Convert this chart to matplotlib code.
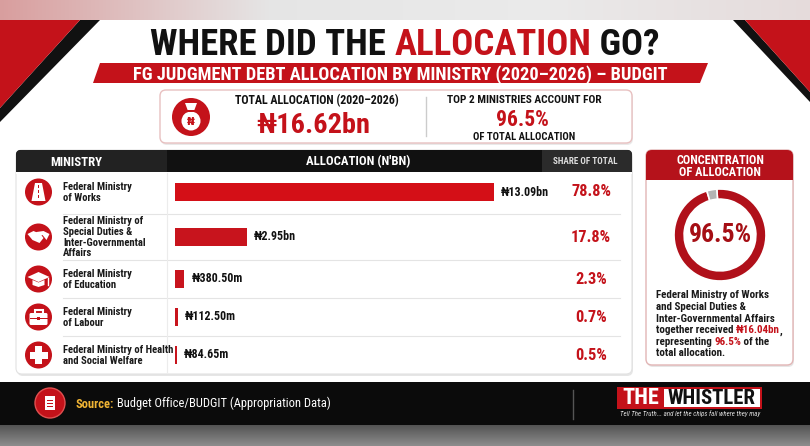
import matplotlib
matplotlib.use("Agg")
import matplotlib.pyplot as plt
import numpy as np
from matplotlib import font_manager
from matplotlib.patches import Circle, FancyBboxPatch, Polygon, Rectangle

# ---- data -------------------------------------------------------------
ministries = [
    "Federal Ministry\nof Works",
    "Federal Ministry of\nSpecial Duties &\nInter-Governmental\nAffairs",
    "Federal Ministry\nof Education",
    "Federal Ministry\nof Labour",
    "Federal Ministry of Health\nand Social Welfare",
]
allocation_bn = [13.09, 2.95, 0.3805, 0.1125, 0.08465]
share_pct = [78.8, 17.8, 2.3, 0.7, 0.5]
total_bn = 16.62
top2_bn = 16.04
top2_pct = 96.5
period = "2020–2026"

RED = "#c4121a"
DARK_RED = "#a50e14"
GOLD = "#f0b434"

names = {f.name for f in font_manager.fontManager.ttflist}
NARROW = next((n for n in ["Liberation Sans Narrow", "Roboto Condensed"] if n in names), "DejaVu Sans")
COND = [NARROW, "DejaVu Sans"]

fig = plt.figure(figsize=(8.1, 4.46), dpi=100, facecolor="white")
bg = fig.add_axes([0, 0, 1, 1])
bg.set_xlim(0, 810)
bg.set_ylim(446, 0)
bg.axis("off")
renderer = fig.canvas.get_renderer()


def text_width(s, size, weight="bold", style="normal", family=COND):
    t = bg.text(0, 0, s, fontsize=size, family=family, fontweight=weight, fontstyle=style)
    w = t.get_window_extent(renderer).width
    t.remove()
    return w


def rich(x, y, parts, size, ha="left", width=None, style="normal", family=COND, z=6):
    # parts: (text, colour, weight)
    def total(sz):
        bar = text_width("|", sz, "bold", style, family)
        return sum(text_width(s + "|", sz, w, style, family) - bar for s, _, w in parts)

    if width:
        size = size * width / total(size)
    x0 = x - total(size) / 2 if ha == "center" else x
    bar = text_width("|", size, "bold", style, family)
    for s, c, w in parts:
        bg.text(x0, y, s, fontsize=size, family=family, fontweight=w, fontstyle=style,
                color=c, ha="left", va="baseline", zorder=z)
        x0 += text_width(s + "|", size, w, style, family) - bar
    return size


def rbox(x, y, w, h, r, fc, ec="none", lw=0, z=2):
    bg.add_patch(FancyBboxPatch((x + r, y + r), w - 2 * r, h - 2 * r,
                                boxstyle=f"round,pad={r}", fc=fc, ec=ec, lw=lw, zorder=z))


def rect(x, y, w, h, fc, z=2, **kw):
    bg.add_patch(Rectangle((x, y), w, h, fc=fc, ec="none", zorder=z, **kw))


# ---- background -------------------------------------------------------
top = np.array([[0.85, 0.62, 0.62], [0.90, 0.90, 0.90], [0.92, 0.92, 0.92], [0.90, 0.86, 0.86]])
grad = np.array([np.interp(np.linspace(0, 3, 400), np.arange(4), top[:, k]) for k in range(3)]).T
bg.imshow(grad[None, :, :], extent=(0, 810, 20, 0), aspect="auto", zorder=0)
bot = np.linspace(0.33, 0.55, 30)
bg.imshow(np.repeat(bot[:, None, None], 3, axis=2) * np.ones((1, 10, 3)),
          extent=(0, 810, 446, 425), aspect="auto", zorder=0)

bg.add_patch(Polygon([(80, 20), (100, 20), (0, 122), (0, 108)], fc="#111111", zorder=1))
bg.add_patch(Polygon([(0, 20), (80, 20), (0, 108)], fc=RED, zorder=1))
bg.add_patch(Polygon([(733, 20), (745, 20), (810, 92), (810, 102)], fc="#111111", zorder=1))
bg.add_patch(Polygon([(745, 20), (810, 20), (810, 92)], fc=RED, zorder=1))

# ---- title ------------------------------------------------------------
rich(405, 55, [("WHERE DID THE ", "#111111", "bold"), ("ALLOCATION", RED, "bold"),
               (" GO?", "#111111", "bold")], 28, ha="center", width=510)
bg.add_patch(Polygon([(100, 63), (708, 63), (700, 83), (93, 83)], fc=RED, zorder=2))
rich(400, 79.5, [(f"FG JUDGMENT DEBT ALLOCATION BY MINISTRY ({period}) – BUDGIT", "white", "bold")],
     12, ha="center", width=534)

# ---- summary box ------------------------------------------------------
rbox(161, 92, 472, 53, 6, "#e9e9e9", z=1)
rbox(160, 90, 472, 53, 6, "white", ec="#e8c0c0", lw=1)
bg.add_patch(Circle((191, 117), 19, fc=RED, zorder=3))
bg.add_patch(Circle((191, 121), 9.5, fc="white", zorder=4))
bg.add_patch(Polygon([(185, 103), (197, 103), (194, 111), (188, 111)], fc="white", zorder=4))
rect(187, 110, 8, 1.5, RED, z=5)
bg.text(191, 122, "₦", fontsize=8, fontweight="bold", color=RED, ha="center", va="center",
        family=["DejaVu Sans"], zorder=6)
rich(235, 104, [(f"TOTAL ALLOCATION ({period})", "#111111", "bold")], 8, width=165)
rich(256, 133, [(f"₦{total_bn:.2f}bn", RED, "bold")], 20, width=114)
bg.plot([426, 426], [97, 136], color="#cccccc", lw=1, zorder=3)
rich(524, 103, [("TOP 2 MINISTRIES ACCOUNT FOR", "#111111", "bold")], 8, ha="center", width=155)
rich(522, 126.5, [(f"{top2_pct:.1f}%", RED, "bold")], 15.5, ha="center")
rich(524, 140.5, [("OF TOTAL ALLOCATION", "#111111", "bold")], 7, ha="center", width=103)

# ---- table ------------------------------------------------------------
row_y = [192, 237, 279, 317, 355]
seps = [214, 260, 298, 336]
rbox(17, 152, 616, 224, 6, "#e6e6e6", z=1)
rbox(16, 150, 616, 224, 6, "white", ec="#e2e2e2", lw=0.8)
rbox(16, 150, 616, 24, 5, "#111111", z=3)
rect(16, 162, 616, 10, "#111111", z=3)
rbox(16, 150, 151, 22, 5, "#222222", z=3)
rect(100, 150, 67, 22, "#222222", z=3)
rect(16, 162, 151, 10, "#222222", z=3)
rbox(542, 150, 90, 22, 5, "#2b2b2b", z=3)
rect(542, 150, 40, 22, "#2b2b2b", z=3)
rect(542, 162, 90, 10, "#2b2b2b", z=3)
rect(16, 172, 616, 1.5, "white", z=3)
rich(76, 165.5, [("MINISTRY", "white", "bold")], 8, ha="center", width=52)
rich(358, 165.5, [("ALLOCATION (N'BN)", "white", "bold")], 8, ha="center", width=104)
rich(585, 164.5, [("SHARE OF TOTAL", "#dddddd", "bold")], 5.5, ha="center", width=64)

for s in seps:
    bg.plot([63, 620], [s, s], color="#e4e4e4", lw=0.8, zorder=3)
bg.plot([167, 167], [173, 372], color="#ececec", lw=0.8, zorder=3)


def icon(k, cx, cy):
    bg.add_patch(Circle((cx, cy), 13.5, fc=RED, zorder=4))
    W = dict(fc="white", ec="none", zorder=5)
    if k == 0:  # road
        bg.add_patch(Polygon([(cx - 3.5, cy - 9), (cx + 3.5, cy - 9), (cx + 7, cy + 9), (cx - 7, cy + 9)], **W))
        for dy in (-7, -2, 3):
            rect(cx - 0.7, cy + dy, 1.4, 3, RED, z=6)
    elif k == 1:  # handshake
        bg.add_patch(Polygon([(cx - 11, cy - 3), (cx - 5, cy - 6), (cx + 2, cy - 3), (cx + 5, cy + 1),
                              (cx + 1, cy + 6), (cx - 6, cy + 3)], **W))
        bg.add_patch(Polygon([(cx + 11, cy - 3), (cx + 5, cy - 6), (cx - 2, cy - 5), (cx - 5, cy - 1),
                              (cx - 1, cy + 0), (cx + 4, cy - 2), (cx + 8, cy + 3)], **W))
    elif k == 2:  # graduation cap
        bg.add_patch(Polygon([(cx - 11, cy - 2), (cx, cy - 7), (cx + 11, cy - 2), (cx, cy + 3)], **W))
        bg.add_patch(Polygon([(cx - 6, cy + 1), (cx, cy + 3.5), (cx + 6, cy + 1), (cx + 6, cy + 6),
                              (cx, cy + 8), (cx - 6, cy + 6)], **W))
        bg.plot([cx + 9, cx + 9], [cy - 1, cy + 6], color="white", lw=1, zorder=5)
    elif k == 3:  # briefcase
        rbox(cx - 9, cy - 4, 18, 12, 1.5, "white", z=5)
        bg.add_patch(Rectangle((cx - 4, cy - 7.5), 8, 4, fc="none", ec="white", lw=1.5, zorder=5))
        rect(cx - 9, cy + 0.5, 18, 1, RED, z=6)
        rect(cx - 1.5, cy - 0.5, 3, 3, RED, z=6)
    else:  # cross
        rect(cx - 3.5, cy - 9, 7, 18, "white", z=5)
        rect(cx - 9, cy - 3.5, 18, 7, "white", z=5)


label_size = None
for i, (name, y) in enumerate(zip(ministries, row_y)):
    icon(i, 38.5, y)
    lines = name.split("\n")
    if label_size is None:
        label_size = 7 * 69 / text_width("Federal Ministry", 7)
    y0 = y - (len(lines) - 1) * 10.7 / 2 + 3.3
    for j, line in enumerate(lines):
        bg.text(63, y0 + j * 10.7, line, fontsize=label_size, family=COND, fontweight="bold",
                color="#1a1a1a", va="baseline", zorder=6)

# bars use their own value axis
bar_ax = fig.add_axes([175 / 810, 0, 365 / 810, 1])
bar_ax.set_xlim(0, 15)
bar_ax.set_ylim(446, 0)
bar_ax.axis("off")
bar_colors = ["#d40f17"] + ["#c8141d"] * 4
bar_ax.barh(row_y, allocation_bn, height=18.5, color=bar_colors, zorder=3)


def money(v):
    return f"₦{v:.2f}bn" if v >= 1 else f"₦{v * 1000:.2f}m"


value_size = 8 * 48 / text_width("₦13.09bn", 8)
pct_size = 9 * 40 / text_width("78.8%", 9)
for v, p, y in zip(allocation_bn, share_pct, row_y):
    bar_ax.annotate(money(v), xy=(v, y), xytext=(7, 0), textcoords="offset pixels",
                    ha="left", va="center", fontsize=value_size, fontweight="bold",
                    family=COND, color="#111111")
    bg.text(591, y, f"{p:.1f}%", fontsize=pct_size, fontweight="bold", family=COND,
            color=RED, ha="center", va="center", zorder=6)

# ---- concentration panel ---------------------------------------------
rbox(647, 152, 147, 215, 6, "#e6e6e6", z=1)
rbox(646, 150, 147, 215, 6, "white", ec="#e2b5b5", lw=1)
rbox(646, 150, 147, 30, 6, "#b5121b", z=3)
rect(646, 170, 147, 10, "#b5121b", z=3)
hs = rich(720, 164.5, [("CONCENTRATION", "white", "bold")], 8, ha="center", width=87)
rich(720, 176.5, [("OF ALLOCATION", "white", "bold")], hs, ha="center")

pie_ax = fig.add_axes([(720 - 46) / 810, (446 - 235 - 46) / 446, 92 / 810, 92 / 446])
pie_ax.pie([top2_pct, 100 - top2_pct], colors=["#b0101a", "#b3b3b3"], radius=1,
           startangle=90 + 4 + (100 - top2_pct) * 3.6, counterclock=True,
           wedgeprops=dict(width=0.22, edgecolor="white", linewidth=1.2))
pie_ax.set_xlim(-1.0, 1.0)
pie_ax.set_ylim(-1.0, 1.0)
rich(720, 242.5, [(f"{top2_pct:.1f}%", DARK_RED, "bold")], 18, ha="center", width=63)

body_size = 7 * 114 / text_width("Federal Ministry of Works", 7)
body = [
    [("Federal Ministry of Works", "#1a1a1a", "bold")],
    [("and Special Duties &", "#1a1a1a", "bold")],
    [("Inter-Governmental Affairs", "#1a1a1a", "bold")],
    [("together received ", "#1a1a1a", "bold"), (f"₦{top2_bn:.2f}bn", RED, "bold"), (",", "#1a1a1a", "bold")],
    [("representing ", "#1a1a1a", "bold"), (f"{top2_pct:.1f}%", RED, "bold"), (" of the", "#1a1a1a", "bold")],
    [("total allocation.", "#1a1a1a", "bold")],
]
for j, parts in enumerate(body):
    rich(656, 298.5 + j * 11.6, parts, body_size)

# ---- footer -----------------------------------------------------------
rect(0, 382, 810, 43, "#0b0b0b", z=1)
bg.add_patch(Circle((50, 403), 15, fc=RED, ec="#e05050", lw=1, zorder=3))
rect(45, 396, 10, 14, "white", z=4)
for dy in (400, 403, 406):
    rect(47, dy, 6, 1, RED, z=5)
rich(76, 407.5, [("Source:", GOLD, "bold"), (" Budget Office/BUDGIT (Appropriation Data)", "white", "normal")],
     8.5, width=254)
bg.plot([573, 573], [390, 419], color="#555555", lw=1, zorder=3)
rect(617, 387, 145, 22, RED, z=3)
rect(664, 389, 96, 18, "white", z=4)
rich(640.5, 404.5, [("THE", "white", "bold")], 12, ha="center", width=37)
rich(712, 404.5, [("WHISTLER", "#111111", "bold")], 12, ha="center", width=88)
rich(690, 416, [("Tell The Truth... and let the chips fall where they may", "#dddddd", "normal")],
     3.5, ha="center", width=140, style="italic")

fig.savefig("out.png", dpi=100, facecolor="white")
